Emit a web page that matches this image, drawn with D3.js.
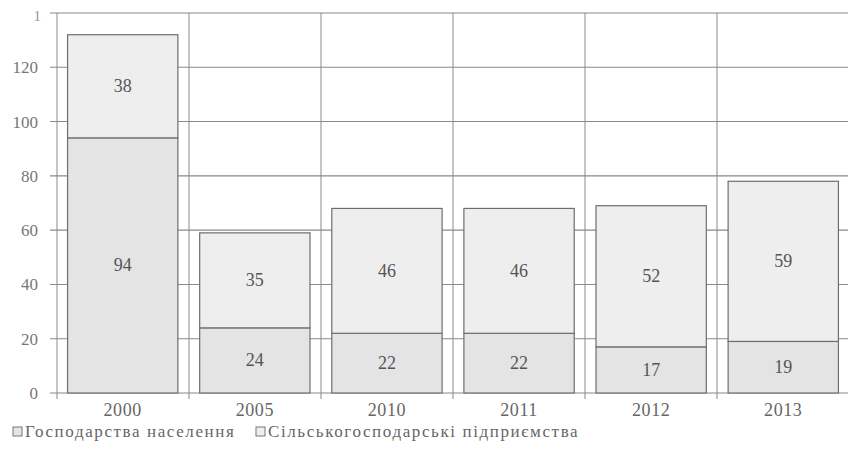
<!DOCTYPE html>
<html><head><meta charset="utf-8">
<script src="https://cdn.jsdelivr.net/npm/d3@7/dist/d3.min.js"></script>
<style>
html,body{margin:0;padding:0;background:#fff;}
svg{display:block;}
</style></head>
<body>
<svg id="chart" width="848" height="463"></svg>
<script>
const categories = ["2000","2005","2010","2011","2012","2013"];
const households = [94, 24, 22, 22, 17, 19];
const enterprises = [38, 35, 46, 46, 52, 59];
const seriesNames = ["Господарства населення", "Сільськогосподарські підприємства"];
const yTicks = [0, 20, 40, 60, 80, 100, 120];
const FONT = "'Liberation Serif'";

const svg = d3.select("#chart");
const m = {left: 57, top: 13};
const x = d3.scaleBand().domain(categories).range([m.left, 849]).paddingInner(0.165).paddingOuter(0.08);
const y = d3.scaleLinear().domain([0, 140]).range([393, 13]);

const g = svg.append("g");

// horizontal grid
g.selectAll("line.h").data([...yTicks, 140]).enter().append("line")
  .attr("x1", 50).attr("x2", 849)
  .attr("y1", d => y(d)).attr("y2", d => y(d))
  .attr("stroke", "#8a8a8a").attr("stroke-width", 1.1);

// vertical grid (category boundaries)
const bounds = d3.range(categories.length + 1).map(i => m.left + i * (849 - m.left) / categories.length);
g.selectAll("line.v").data(bounds).enter().append("line")
  .attr("x1", d => d).attr("x2", d => d)
  .attr("y1", y(140)).attr("y2", y(0) + 6)
  .attr("stroke", "#8a8a8a").attr("stroke-width", 1);

// stacked data
const rows = categories.map((c, i) => ({cat: c, households: households[i], enterprises: enterprises[i]}));
const stack = d3.stack().keys(["households", "enterprises"])(rows);
const fills = ["#e4e4e4", "#eeeeee"];

const layers = g.selectAll("g.layer").data(stack).enter().append("g");
layers.selectAll("rect").data((d, li) => d.map(p => ({p, li}))).enter().append("rect")
  .attr("x", d => x(d.p.data.cat))
  .attr("width", x.bandwidth())
  .attr("y", d => y(d.p[1]))
  .attr("height", d => y(d.p[0]) - y(d.p[1]))
  .attr("fill", d => fills[d.li])
  .attr("stroke", "#6e6e6e").attr("stroke-width", 1.2);

layers.selectAll("text").data((d, li) => d.map(p => ({p, li}))).enter().append("text")
  .attr("x", d => x(d.p.data.cat) + x.bandwidth() / 2)
  .attr("y", d => (y(d.p[0]) + y(d.p[1])) / 2 + 6)
  .attr("text-anchor", "middle")
  .style("font-family", FONT)
  .style("font-size", "18px")
  .attr("fill", "#555")
  .text(d => d.p[1] - d.p[0]);

// y axis labels
const yAxis = d3.axisLeft(y).tickValues(yTicks).tickSize(0).tickPadding(19);
const ya = svg.append("g").attr("transform", `translate(${m.left},0)`).call(yAxis);
ya.select(".domain").remove();
ya.selectAll("text").style("font-family", FONT).style("font-size", "17px").attr("fill", "#777");
svg.append("text").attr("x", 41).attr("y", 21).attr("text-anchor", "end")
  .style("font-family", FONT).style("font-size", "15px").attr("fill", "#999").text("1");

// x axis labels
const xAxis = d3.axisBottom(x).tickSize(0).tickPadding(10);
const xa = svg.append("g").attr("transform", `translate(0,${y(0)})`).call(xAxis);
xa.select(".domain").remove();
xa.selectAll("text").style("font-family", FONT).style("font-size", "18px").style("letter-spacing", "0.6px").attr("fill", "#666");

// legend
const legendX = [13, 256];
const lg = svg.selectAll("g.leg").data(seriesNames).enter().append("g")
  .attr("transform", (d, i) => `translate(${legendX[i]},432)`);
lg.append("rect").attr("x", 0).attr("y", -5).attr("width", 9).attr("height", 9)
  .attr("fill", (d, i) => fills[i]).attr("stroke", "#777").attr("stroke-width", 1);
lg.append("text").attr("x", 12).attr("y", 5)
  .style("font-family", FONT)
  .style("font-size", "17px").style("letter-spacing", "1.6px").attr("fill", "#666")
  .text(d => d);
</script>
</body></html>
